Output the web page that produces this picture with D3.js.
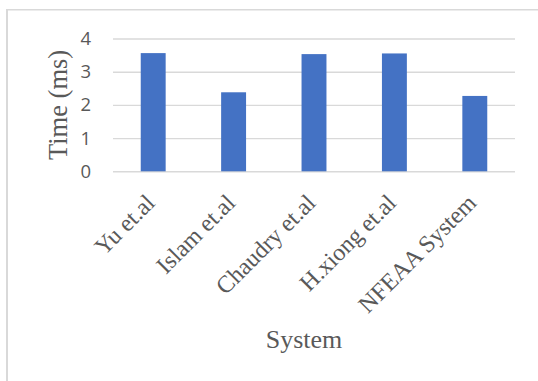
<!DOCTYPE html>
<html>
<head>
<meta charset="utf-8">
<script src="https://cdn.jsdelivr.net/npm/d3@7"></script>
<style>
  html, body { margin: 0; padding: 0; background: #fff; }
  svg { display: block; }
</style>
</head>
<body>
<svg id="chart" width="538" height="381"></svg>
<script>
const categories = ["Yu et.al", "Islam et.al", "Chaudry et.al", "H.xiong et.al", "NFEAA System"];
const timeValues = [3.56, 2.38, 3.53, 3.55, 2.27];
const yTicks = [0, 1, 2, 3, 4];
const yTitle = "Time (ms)";
const xTitle = "System";

const svg = d3.select("#chart");
const plot = { left: 113, right: 515, top: 38.5, bottom: 171.3 };

// chart frame (left and top border only visible)
svg.append("line").attr("x1", 7).attr("x2", 7).attr("y1", 9.5).attr("y2", 381)
  .attr("stroke", "#d9d9d9").attr("stroke-width", 2);
svg.append("line").attr("x1", 6).attr("x2", 538).attr("y1", 9.7).attr("y2", 9.7)
  .attr("stroke", "#d9d9d9").attr("stroke-width", 1.5);

const x = d3.scaleBand().domain(categories).range([plot.left, plot.right]).paddingInner(0.69).paddingOuter(0.345);
const y = d3.scaleLinear().domain([0, 4]).range([plot.bottom, plot.top]);

// gridlines
const grid = svg.append("g")
  .attr("transform", `translate(${plot.left},0)`)
  .call(d3.axisLeft(y).tickValues(yTicks).tickSize(-(plot.right - plot.left)).tickFormat(""));
grid.select(".domain").remove();
grid.selectAll("line").attr("stroke", "#d9d9d9").attr("stroke-width", 1.4);

// y tick labels
const yAxis = svg.append("g")
  .attr("transform", `translate(${plot.left},0)`)
  .call(d3.axisLeft(y).tickValues(yTicks).tickSize(0).tickPadding(22).tickFormat(d3.format("d")));
yAxis.select(".domain").remove();
yAxis.selectAll("text")
  .attr("font-family", "'Open Sans', 'Liberation Sans', sans-serif")
  .attr("font-size", 18.5)
  .attr("fill", "#595959");

// bars
svg.append("g").selectAll("rect")
  .data(categories)
  .join("rect")
  .attr("x", d => x(d))
  .attr("width", x.bandwidth())
  .attr("y", (d, i) => y(timeValues[i]))
  .attr("height", (d, i) => y(0) - y(timeValues[i]))
  .attr("fill", "#4472c4");

// x labels
const xAxis = svg.append("g")
  .attr("transform", `translate(0,${plot.bottom})`)
  .call(d3.axisBottom(x).tickSize(0).tickFormat(d => d));
xAxis.select(".domain").remove();
xAxis.selectAll(".tick text")
  .attr("font-family", "'Liberation Serif', 'Times New Roman', serif")
  .attr("font-size", 24)
  .attr("fill", "#595959")
  .attr("text-anchor", "end")
  .attr("y", 0).attr("dy", 0)
  .attr("transform", "translate(3,33) rotate(-45)");

// axis titles
svg.append("text")
  .attr("transform", `translate(66.5,${(plot.top + plot.bottom) / 2}) rotate(-90)`)
  .attr("text-anchor", "middle")
  .attr("font-family", "'Liberation Serif', 'Times New Roman', serif")
  .attr("font-size", 26.5)
  .attr("fill", "#595959")
  .text(yTitle);

svg.append("text")
  .attr("x", 304).attr("y", 348)
  .attr("text-anchor", "middle")
  .attr("font-family", "'Liberation Serif', 'Times New Roman', serif")
  .attr("font-size", 26)
  .attr("fill", "#595959")
  .text(xTitle);
</script>
</body>
</html>
